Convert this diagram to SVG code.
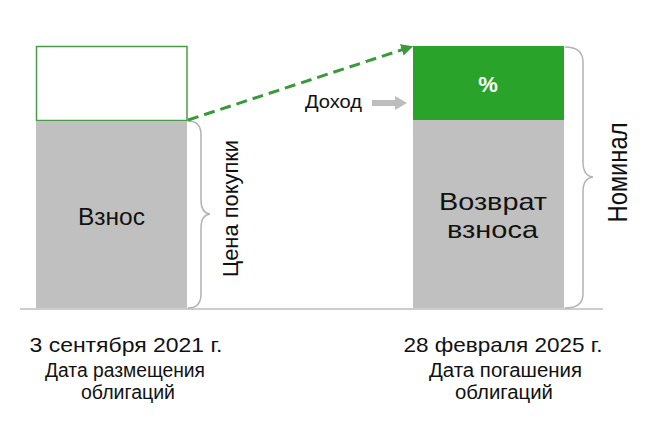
<svg xmlns="http://www.w3.org/2000/svg" width="657" height="444" viewBox="0 0 657 444">
<style>
text{font-family:"Liberation Sans","Noto Sans",Arial,sans-serif;fill:#111}
.bar{fill:#c0c0c0}
.brace{fill:none;stroke:#b3b3b3;stroke-width:1.5}
.lbl{font-size:24px;text-anchor:middle}
.date{font-size:21px;text-anchor:middle}
.sub{font-size:19.5px;text-anchor:middle}
</style>
<defs>
<marker id="ga" viewBox="0 0 10 10" refX="9" refY="5" markerWidth="4" markerHeight="4" orient="auto" markerUnits="strokeWidth">
<path d="M0,0 L10,5 L0,10 Z" fill="#3a9a3a"/>
</marker>
</defs>
<rect width="657" height="444" fill="#fff"/>
<line x1="20" y1="309" x2="603" y2="309" stroke="#bdbdbd" stroke-width="1.5"/>
<g id="left-bar">
<rect x="36.5" y="46.5" width="150.5" height="74" fill="#fff" stroke="#4a9a4a" stroke-width="1.5"/>
<rect class="bar" x="36" y="121" width="151" height="187"/>
<text class="lbl" x="111.5" y="225" font-size="25" textLength="67" lengthAdjust="spacingAndGlyphs">Взнос</text>
</g>
<g id="right-bar">
<rect x="413" y="46" width="151" height="74" fill="#29a329"/>
<rect class="bar" x="413" y="120" width="151" height="188"/>
<text x="488" y="92" font-size="22" font-weight="bold" text-anchor="middle" style="fill:#fff">%</text>
<text class="lbl" x="493" y="210" textLength="108" lengthAdjust="spacingAndGlyphs">Возврат</text>
<text class="lbl" x="492.5" y="238" textLength="91" lengthAdjust="spacingAndGlyphs">взноса</text>
</g>
<g id="price-brace">
<path class="brace" d="M188,121 Q201,121 201,135 L201,200 Q201,213 210,214 Q201,215 201,228 L201,294 Q201,308 188,308"/>
<text font-size="22" text-anchor="middle" transform="translate(238,208.5) rotate(-90)" textLength="137" lengthAdjust="spacingAndGlyphs">Цена покупки</text>
</g>
<g id="nominal-brace">
<path class="brace" d="M565,47 Q583,47 583,62 L583,162 Q583,176 593,177 Q583,178 583,192 L583,294 Q583,308 565,308"/>
<text font-size="27" text-anchor="middle" transform="translate(627,172.5) rotate(-90)" textLength="100" lengthAdjust="spacingAndGlyphs">Номинал</text>
</g>
<g id="income">
<text x="305" y="108" font-size="18" textLength="57" lengthAdjust="spacingAndGlyphs">Доход</text>
</g>
<g id="connectors">
<line x1="188" y1="120" x2="412" y2="46.5" stroke="#3a9a3a" stroke-width="3" stroke-dasharray="11,6" marker-end="url(#ga)"/>
<path d="M372,100 L395,100 L395,96 L407,103 L395,110 L395,106 L372,106 Z" fill="#bdbdbd"/>
</g>
<g id="start-date">
<text class="date" x="126" y="352" textLength="193" lengthAdjust="spacingAndGlyphs">3 сентября 2021 г.</text>
<text class="sub" x="125" y="377" textLength="160" lengthAdjust="spacingAndGlyphs">Дата размещения</text>
<text class="sub" x="128" y="399" textLength="94" lengthAdjust="spacingAndGlyphs">облигаций</text>
</g>
<g id="end-date">
<text class="date" x="503" y="352" textLength="199" lengthAdjust="spacingAndGlyphs">28 февраля 2025 г.</text>
<text class="sub" x="505.5" y="377" textLength="153" lengthAdjust="spacingAndGlyphs">Дата погашения</text>
<text class="sub" x="504" y="399" textLength="98" lengthAdjust="spacingAndGlyphs">облигаций</text>
</g>
</svg>
